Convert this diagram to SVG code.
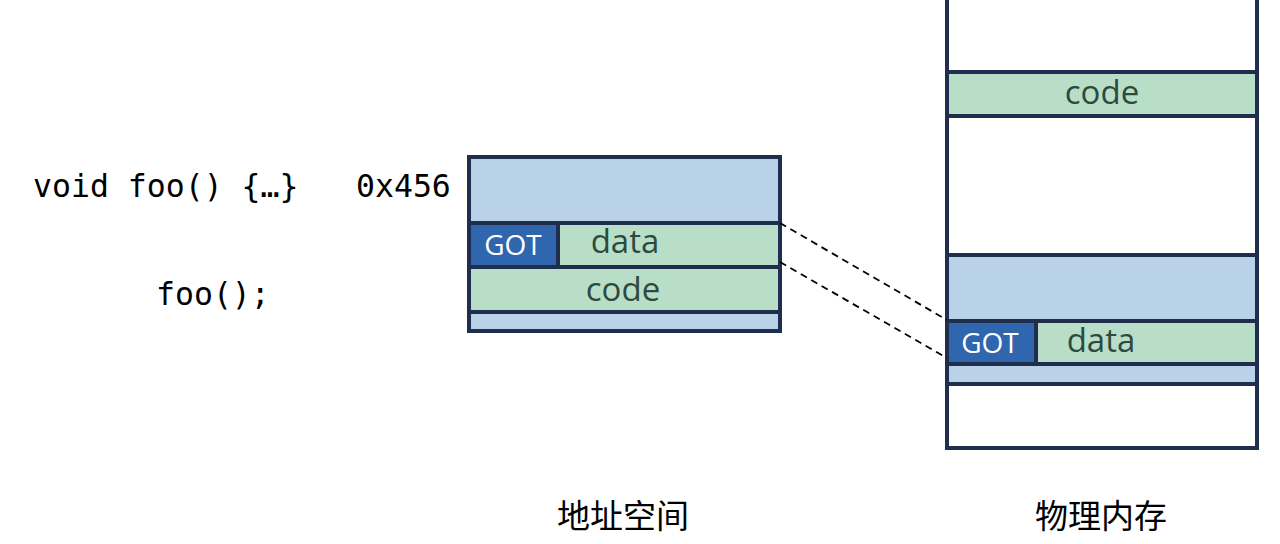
<svg xmlns="http://www.w3.org/2000/svg" width="1280" height="544" viewBox="0 0 1280 544">
<style>
.bd{stroke:#1F2E4C;stroke-width:4}
.lb{fill:#B9D2E8}
.gr{fill:#B9DEC7}
.got{fill:#2F66AD}
.wt{fill:#FFFFFF}
.mono{font-family:"DejaVu Sans Mono","Liberation Mono",monospace;font-size:31.5px;fill:#000}
.lbl{font-family:"Open Sans","Noto Sans",sans-serif;font-size:33px;fill:#2C4A40}
.gt{font-family:"Open Sans","Noto Sans",sans-serif;font-size:28px;fill:#FFFFFF}
.cjk{font-family:"Noto Sans CJK SC",sans-serif;font-size:33px;fill:#000}
.dash{stroke:#000;stroke-width:1.8;stroke-dasharray:7 5;fill:none}
</style>
<rect width="1280" height="544" fill="#FFFFFF"/>
<g id="code-text">
<text class="mono" x="33" y="197">void foo() {…}</text>
<text class="mono" x="356" y="197">0x456</text>
<text class="mono" x="156" y="305">foo();</text>
</g>
<g id="address-space">
<rect class="lb" x="469" y="157" width="311" height="174"/>
<rect class="got" x="469" y="223" width="89" height="43"/>
<rect class="gr" x="558" y="223" width="222" height="43"/>
<rect class="gr" x="469" y="267" width="311" height="45"/>
<rect class="bd" x="469" y="157" width="311" height="174" fill="none"/>
<line class="bd" x1="469" y1="223" x2="780" y2="223"/>
<line class="bd" x1="469" y1="267" x2="780" y2="267"/>
<line class="bd" x1="469" y1="312" x2="780" y2="312"/>
<line class="bd" x1="558" y1="223" x2="558" y2="267"/>
<text class="gt" x="513" y="255" text-anchor="middle">GOT</text>
<text class="lbl" x="625" y="253" text-anchor="middle">data</text>
<text class="lbl" x="623" y="301" text-anchor="middle">code</text>
<text class="cjk" x="623" y="528" text-anchor="middle">地址空间</text>
</g>
<g id="physical-memory">
<rect class="wt" x="947" y="-4" width="310" height="452"/>
<rect class="gr" x="947" y="72" width="310" height="44"/>
<rect class="lb" x="947" y="255" width="310" height="129"/>
<rect class="got" x="947" y="321" width="89" height="43"/>
<rect class="gr" x="1036" y="321" width="221" height="43"/>
<path class="bd" d="M947,-4 V448 H1257 V-4" fill="none"/>
<line class="bd" x1="947" y1="72" x2="1257" y2="72"/>
<line class="bd" x1="947" y1="116" x2="1257" y2="116"/>
<line class="bd" x1="947" y1="255" x2="1257" y2="255"/>
<line class="bd" x1="947" y1="321" x2="1257" y2="321"/>
<line class="bd" x1="947" y1="364" x2="1257" y2="364"/>
<line class="bd" x1="947" y1="384" x2="1257" y2="384"/>
<line class="bd" x1="1036" y1="321" x2="1036" y2="364"/>
<text class="lbl" x="1102" y="104" text-anchor="middle">code</text>
<text class="gt" x="990" y="353" text-anchor="middle">GOT</text>
<text class="lbl" x="1101" y="352" text-anchor="middle">data</text>
<text class="cjk" x="1101" y="528" text-anchor="middle">物理内存</text>
</g>
<g id="connectors">
<line class="dash" x1="780" y1="223" x2="947" y2="320"/>
<line class="dash" x1="780" y1="262" x2="947" y2="358"/>
</g>
</svg>
